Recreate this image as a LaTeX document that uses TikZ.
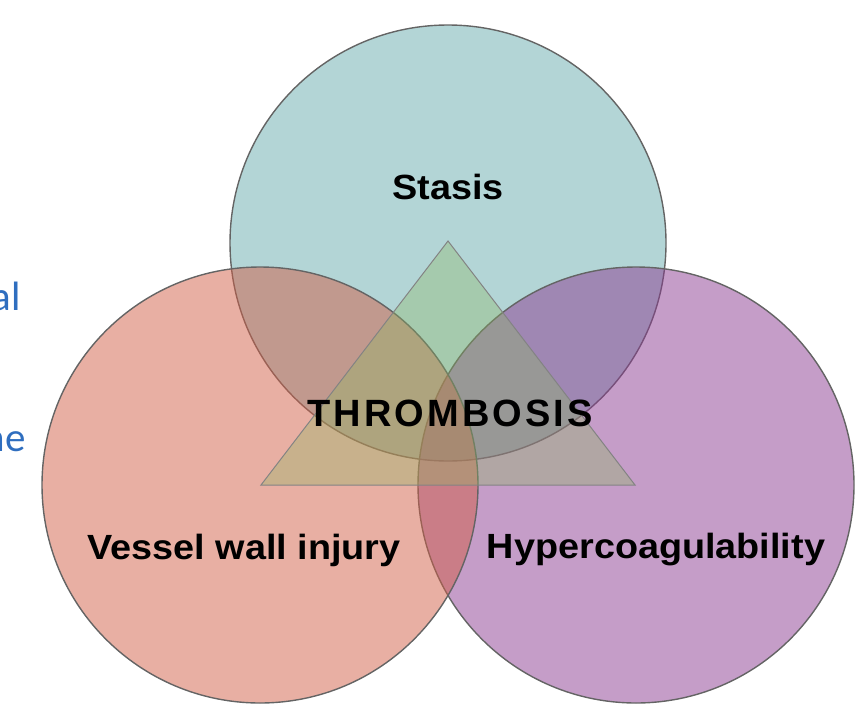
\documentclass[tikz,border=0pt]{standalone}
\usepackage{xcolor}
\usepackage{fontspec}
\setmainfont{Liberation Sans}
\newfontfamily\calibri{Carlito}
\newfontfamily\spaced[LetterSpace=8]{Liberation Sans}
\newcommand\widetext[1]{\scalebox{1.08}[1]{#1}}

\definecolor{stasiscol}{RGB}{103,171,173}
\definecolor{vesselcol}{RGB}{209,95,71}
\definecolor{hypercol}{RGB}{139,59,145}
\definecolor{thrombcol}{RGB}{140,183,97}
\definecolor{edgecol}{RGB}{100,100,100}
\definecolor{slideblue}{RGB}{47,110,191}

\begin{document}
\begin{tikzpicture}[x=1pt,y=-1pt,
  ring/.style={circle, draw=edgecol, line width=1.4pt, fill opacity=0.5, minimum size=436pt, inner sep=0pt},
  label/.style={font=\fontsize{35}{42}\selectfont\bfseries, text=black},
  tri/.style={draw=edgecol!80, line width=1pt, fill=thrombcol, fill opacity=0.35}]
  % frame of the slide crop
  \useasboundingbox (0,0) rectangle (864,712);

  % the three circles
  \node[ring, fill=stasiscol] (stasis) at (448,243) {};
  \node[ring, fill=hypercol] (hyper) at (636,485) {};
  \node[ring, fill=vesselcol] (vessel) at (260,485) {};

  % triangle in the middle
  \coordinate (apex) at (448,241);
  \coordinate (bl) at (261,485);
  \coordinate (br) at (635,485);
  \draw[tri] (apex) -- (bl) -- (br) -- cycle;

  \node[label] (stasislbl) at (448,187) {\widetext{Stasis}};
  \node[label] (vessellbl) at (244,550) {\widetext{Vessel wall injury}};
  \node[label] (hyperlbl) at (656,550) {\widetext{Hypercoagulability}};
  \node[font=\spaced\fontsize{38}{44}\selectfont\bfseries] (thromb) at (450,413) {THROMBOSIS};

  % cut off slide text at the left edge
  \node[anchor=east, inner sep=0pt, text=slideblue, font=\calibri\fontsize{41}{48}\selectfont] (txta) at (21,296) {al};
  \node[anchor=east, inner sep=0pt, text=slideblue, font=\calibri\fontsize{41}{48}\selectfont] (txtb) at (26,442) {ne};
\end{tikzpicture}
\end{document}
